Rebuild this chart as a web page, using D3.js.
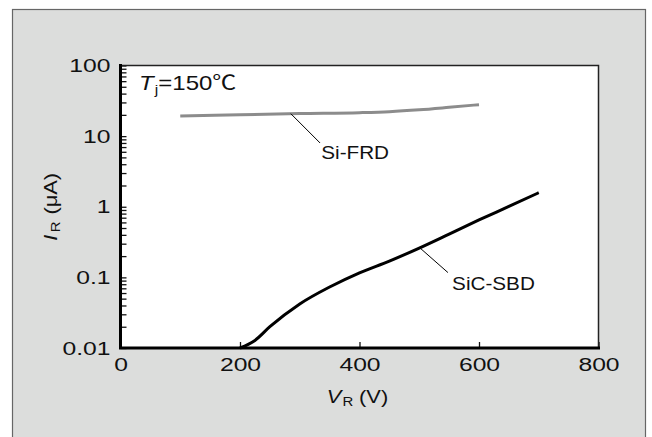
<!DOCTYPE html>
<html>
<head>
<meta charset="utf-8">
<script src="https://cdn.jsdelivr.net/npm/d3@7"></script>
<style>
  body { margin: 0; background: #fff; }
  text { font-family: "Liberation Sans", Arial, "Noto Sans CJK JP", sans-serif; fill: #111; }
</style>
</head>
<body>
<script>
// Si-FRD reverse current (gray)
var frdV = [100, 200, 300, 400, 450, 500, 550, 600];
var frdI = [19.3, 20.1, 20.9, 21.5, 22.2, 23.6, 25.6, 27.9];

// SiC-SBD reverse current (black)
var sbdV = [200, 225, 250, 300, 350, 400, 450, 500, 550, 600, 650, 700];
var sbdI = [0.01, 0.0128, 0.02, 0.042, 0.073, 0.116, 0.17, 0.26, 0.41, 0.65, 1.01, 1.58];

// axes
var xTickValues = [0, 200, 400, 600, 800];
var yLabelValues = [0.01, 0.1, 1, 10, 100];
var yTickLabels = ["0.01", "0.1", "1", "10", "100"];

// callouts (data units)
var notes = [
    { text: "Si-FRD", from: [285, 20.8], to: [334, 8.0], at: [336, 4.75] },
    { text: "SiC-SBD", from: [501, 0.262], to: [548, 0.117], at: [555, 0.067] }
];

var W = 652, H = 437;
var svg = d3.select("body").append("svg").attr("width", W).attr("height", H);

// gray panel
svg.append("rect")
    .attr("x", 12.5).attr("y", 9.5)
    .attr("width", 633).attr("height", 440)
    .attr("fill", "#dcdddc")
    .attr("stroke", "#666")
    .attr("stroke-width", 1.2);

var x = d3.scaleLinear().domain([0, 800]).range([120.5, 598.5]);
var y = d3.scaleLog().domain([0.01, 100]).range([348, 65.5]);

var x0 = x.range()[0], x1 = x.range()[1], y0 = y.range()[0], y1 = y.range()[1];

// plot area
svg.append("rect")
    .attr("x", x0).attr("y", y1)
    .attr("width", x1 - x0).attr("height", y0 - y1)
    .attr("fill", "#fff");

var sx = 1.3; // wide digits of the original font

// Y axis
var yAxis = d3.axisLeft(y)
    .tickValues(y.ticks())
    .tickSizeInner(-6)
    .tickSizeOuter(0)
    .tickPadding(0)
    .tickFormat(function (d) {
        var k = yLabelValues.findIndex(function (v) { return Math.abs(v - d) / v < 1e-6; });
        return k > -1 ? yTickLabels[k] : "";
    });

var gy = svg.append("g").attr("transform", "translate(" + x0 + ",0)").call(yAxis);
gy.select(".domain").remove();
gy.selectAll(".tick line").attr("stroke", "#111").attr("stroke-width", 1.3);
gy.selectAll(".tick text")
    .attr("x", -10 / sx)
    .attr("transform", "scale(" + sx + ",1)")
    .style("font-size", "19px");

// X axis
var xAxis = d3.axisBottom(x)
    .tickValues(xTickValues)
    .tickSizeInner(-6)
    .tickSizeOuter(0)
    .tickPadding(10)
    .tickFormat(d3.format("d"));

var gx = svg.append("g").attr("transform", "translate(0," + y0 + ")").call(xAxis);
gx.select(".domain").remove();
gx.selectAll(".tick line").attr("stroke", "#111").attr("stroke-width", 1.3);
gx.selectAll(".tick text")
    .attr("transform", "scale(" + sx + ",1)")
    .style("font-size", "19px");

// frame: thin top/right, thick left/bottom
svg.append("path")
    .attr("d", "M" + x0 + "," + y1 + "H" + x1 + "V" + y0)
    .attr("fill", "none").attr("stroke", "#222").attr("stroke-width", 1.5);
svg.append("path")
    .attr("d", "M" + x0 + "," + y1 + "V" + y0 + "H" + x1)
    .attr("fill", "none").attr("stroke", "#000").attr("stroke-width", 3)
    .attr("stroke-linecap", "square");

// curves
var line = d3.line()
    .x(function (d) { return x(d[0]); })
    .y(function (d) { return y(d[1]); })
    .curve(d3.curveMonotoneX);

svg.append("path")
    .datum(d3.zip(frdV, frdI))
    .attr("d", line)
    .attr("fill", "none").attr("stroke", "#8c8c8c").attr("stroke-width", 3);

svg.append("path")
    .datum(d3.zip(sbdV, sbdI))
    .attr("d", line)
    .attr("fill", "none").attr("stroke", "#000").attr("stroke-width", 3);

// callouts
notes.forEach(function (n) {
    svg.append("line")
        .attr("x1", x(n.from[0])).attr("y1", y(n.from[1]))
        .attr("x2", x(n.to[0])).attr("y2", y(n.to[1]))
        .attr("stroke", "#000").attr("stroke-width", 1);
    svg.append("text")
        .attr("transform", "translate(" + x(n.at[0]) + "," + y(n.at[1]) + ") scale(1.15,1)")
        .style("font-size", "18px")
        .text(n.text);
});

// Tj label
var tj = svg.append("text")
    .attr("transform", "translate(139,90) scale(1.2,1)")
    .style("font-size", "20px");
tj.append("tspan").style("font-style", "italic").text("T");
tj.append("tspan").attr("dy", 4).attr("dx", 1).style("font-size", "13px").text("j");
tj.append("tspan").attr("dy", -4).text("=150\u2103");

// axis titles
var xt = svg.append("text")
    .attr("transform", "translate(" + ((x0 + x1) / 2 - 2) + ",403) scale(1.15,1)")
    .attr("text-anchor", "middle")
    .style("font-size", "19px");
xt.append("tspan").style("font-style", "italic").text("V");
xt.append("tspan").attr("dy", 3).attr("dx", 1).style("font-size", "13px").text("R");
xt.append("tspan").attr("dy", -3).attr("dx", 5).text("(V)");

var yt = svg.append("text")
    .attr("transform", "translate(57," + (y0 + y1) / 2 + ") rotate(-90) scale(1.15,1)")
    .attr("text-anchor", "middle")
    .style("font-size", "19px");
yt.append("tspan").style("font-style", "italic").text("I");
yt.append("tspan").attr("dy", 3).attr("dx", 2).style("font-size", "13px").text("R");
yt.append("tspan").attr("dy", -3).attr("dx", 6).text("(\u03bcA)");
</script>
</body>
</html>
